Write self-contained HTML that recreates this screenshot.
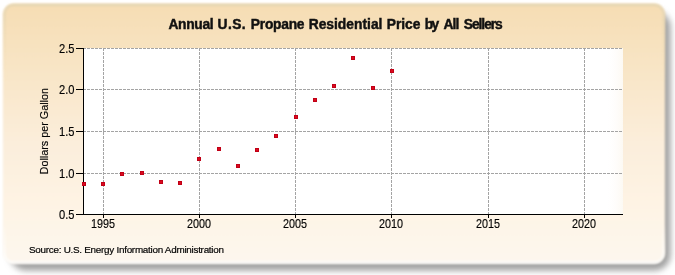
<!DOCTYPE html>
<html><head><meta charset="utf-8"><style>
html,body{margin:0;padding:0;background:#fff;width:675px;height:275px;overflow:hidden}
svg{display:block}
text{font-family:"Liberation Sans",sans-serif}
</style></head><body>
<svg width="675" height="275" viewBox="0 0 675 275">
<defs>
<linearGradient id="bg" x1="0" y1="0" x2="0" y2="1">
<stop offset="0" stop-color="#F6DDB3"/>
<stop offset="0.55" stop-color="#FBEEDC"/>
<stop offset="0.75" stop-color="#FEF3E3"/>
<stop offset="1" stop-color="#FDF7EE"/>
</linearGradient>
<linearGradient id="edge" x1="0" y1="0" x2="0" y2="1">
<stop offset="0" stop-color="#D8CFB0" stop-opacity="0.7"/>
<stop offset="0.3" stop-color="#F5DFB5" stop-opacity="0"/>
<stop offset="0.85" stop-color="#fff" stop-opacity="0"/>
<stop offset="1" stop-color="#fff" stop-opacity="1"/>
</linearGradient>
<linearGradient id="pr" x1="0" y1="0" x2="1" y2="0">
<stop offset="0" stop-color="#fff" stop-opacity="0"/>
<stop offset="1" stop-color="#F8EEDC" stop-opacity="0.35"/>
</linearGradient>
<filter id="sh" x="-5%" y="-10%" width="110%" height="120%">
<feGaussianBlur stdDeviation="3.3 3.3"/>
</filter>
<filter id="soft" x="-2%" y="-2%" width="104%" height="104%"><feGaussianBlur stdDeviation="1"/></filter>
</defs>
<rect x="10" y="11" width="660.5" height="259.5" rx="16" fill="#A0A0A0" filter="url(#sh)"/>
<rect x="3" y="3.5" width="662" height="260" rx="11" fill="url(#bg)" filter="url(#soft)"/>
<rect x="4.5" y="5" width="659" height="257.5" rx="9" fill="none" stroke="url(#edge)" stroke-width="2" filter="url(#soft)"/>
<rect x="83" y="48" width="540" height="166" fill="#fff"/>
<rect x="605" y="48" width="18" height="166" fill="url(#pr)"/>
<g stroke="#a4a4a4" stroke-width="1" stroke-dasharray="3,1" fill="none" shape-rendering="crispEdges">
<line x1="83" y1="173.5" x2="623" y2="173.5"/><line x1="83" y1="131.5" x2="623" y2="131.5"/><line x1="83" y1="89.5" x2="623" y2="89.5"/><line x1="83" y1="48.5" x2="623" y2="48.5"/>
<line x1="103.5" y1="48" x2="103.5" y2="214"/><line x1="199.5" y1="48" x2="199.5" y2="214"/><line x1="295.5" y1="48" x2="295.5" y2="214"/><line x1="391.5" y1="48" x2="391.5" y2="214"/><line x1="488.5" y1="48" x2="488.5" y2="214"/><line x1="584.5" y1="48" x2="584.5" y2="214"/>
</g>
<g stroke="#000" stroke-width="1" fill="none" shape-rendering="crispEdges">
<line x1="83.5" y1="48" x2="83.5" y2="215"/>
<line x1="83" y1="214.5" x2="623" y2="214.5"/>
<line x1="76" y1="214.5" x2="83" y2="214.5"/><line x1="76" y1="173.5" x2="83" y2="173.5"/><line x1="76" y1="131.5" x2="83" y2="131.5"/><line x1="76" y1="89.5" x2="83" y2="89.5"/><line x1="76" y1="48.5" x2="83" y2="48.5"/><line x1="103.5" y1="215" x2="103.5" y2="218"/><line x1="199.5" y1="215" x2="199.5" y2="218"/><line x1="295.5" y1="215" x2="295.5" y2="218"/><line x1="391.5" y1="215" x2="391.5" y2="218"/><line x1="488.5" y1="215" x2="488.5" y2="218"/><line x1="584.5" y1="215" x2="584.5" y2="218"/>
</g>
<g fill="#C00016" shape-rendering="crispEdges">
<rect x="82" y="182" width="4" height="4"/><rect x="83" y="183" width="2" height="2" fill="#DC0A1E"/><rect x="101" y="182" width="4" height="4"/><rect x="102" y="183" width="2" height="2" fill="#DC0A1E"/><rect x="120" y="172" width="4" height="4"/><rect x="121" y="173" width="2" height="2" fill="#DC0A1E"/><rect x="140" y="171" width="4" height="4"/><rect x="141" y="172" width="2" height="2" fill="#DC0A1E"/><rect x="159" y="180" width="4" height="4"/><rect x="160" y="181" width="2" height="2" fill="#DC0A1E"/><rect x="178" y="181" width="4" height="4"/><rect x="179" y="182" width="2" height="2" fill="#DC0A1E"/><rect x="197" y="157" width="4" height="4"/><rect x="198" y="158" width="2" height="2" fill="#DC0A1E"/><rect x="217" y="147" width="4" height="4"/><rect x="218" y="148" width="2" height="2" fill="#DC0A1E"/><rect x="236" y="164" width="4" height="4"/><rect x="237" y="165" width="2" height="2" fill="#DC0A1E"/><rect x="255" y="148" width="4" height="4"/><rect x="256" y="149" width="2" height="2" fill="#DC0A1E"/><rect x="274" y="134" width="4" height="4"/><rect x="275" y="135" width="2" height="2" fill="#DC0A1E"/><rect x="294" y="115" width="4" height="4"/><rect x="295" y="116" width="2" height="2" fill="#DC0A1E"/><rect x="313" y="98" width="4" height="4"/><rect x="314" y="99" width="2" height="2" fill="#DC0A1E"/><rect x="332" y="84" width="4" height="4"/><rect x="333" y="85" width="2" height="2" fill="#DC0A1E"/><rect x="351" y="56" width="4" height="4"/><rect x="352" y="57" width="2" height="2" fill="#DC0A1E"/><rect x="371" y="86" width="4" height="4"/><rect x="372" y="87" width="2" height="2" fill="#DC0A1E"/><rect x="390" y="69" width="4" height="4"/><rect x="391" y="70" width="2" height="2" fill="#DC0A1E"/>
</g>
<g style="opacity:0.999">
<g font-size="12" fill="#000" stroke="#000" stroke-width="0.15">
<text transform="translate(74.5,218.90) scale(0.93,1)" text-anchor="end">0.5</text><text transform="translate(74.5,177.90) scale(0.93,1)" text-anchor="end">1.0</text><text transform="translate(74.5,135.90) scale(0.93,1)" text-anchor="end">1.5</text><text transform="translate(74.5,93.90) scale(0.93,1)" text-anchor="end">2.0</text><text transform="translate(74.5,52.90) scale(0.93,1)" text-anchor="end">2.5</text>
<text transform="translate(103.10,228) scale(0.9,1)" text-anchor="middle">1995</text><text transform="translate(199.10,228) scale(0.9,1)" text-anchor="middle">2000</text><text transform="translate(295.10,228) scale(0.9,1)" text-anchor="middle">2005</text><text transform="translate(391.10,228) scale(0.9,1)" text-anchor="middle">2010</text><text transform="translate(488.10,228) scale(0.9,1)" text-anchor="middle">2015</text><text transform="translate(584.10,228) scale(0.9,1)" text-anchor="middle">2020</text>
</g>
<g font-size="13.8" font-weight="bold" fill="#111" stroke="#111" stroke-width="0.45"><text x="168.38" y="29" textLength="45.21" lengthAdjust="spacing">Annual</text><text x="217.47" y="29" textLength="28.23" lengthAdjust="spacing">U.S.</text><text x="250.87" y="29" textLength="53.63" lengthAdjust="spacing">Propane</text><text x="308.67" y="29" textLength="73.77" lengthAdjust="spacing">Residential</text><text x="386.8" y="29" textLength="33.56" lengthAdjust="spacing">Price</text><text x="424.82" y="29" textLength="14.28" lengthAdjust="spacing">by</text><text x="443.62" y="29" textLength="15.68" lengthAdjust="spacing">All</text><text x="463.83" y="29" textLength="38.94" lengthAdjust="spacing">Sellers</text></g>
<text transform="translate(47.8,131.2) rotate(-90)" text-anchor="middle" font-size="10.8" fill="#000" stroke="#000" stroke-width="0.15">Dollars per Gallon</text>
<text x="29" y="252.8" font-size="9.9" textLength="195" lengthAdjust="spacing" fill="#000" stroke="#000" stroke-width="0.2">Source: U.S. Energy Information Administration</text>
</g>
</svg>
</body></html>
